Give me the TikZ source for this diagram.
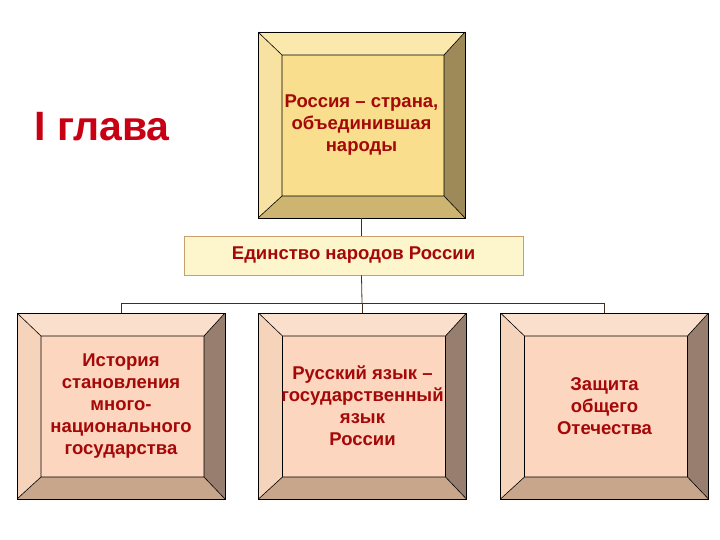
\documentclass[tikz,border=0pt]{standalone}
\usepackage{fontspec}
\setmainfont{Liberation Sans}
\usepackage{tikz}
\usetikzlibrary{calc}
\usetikzlibrary{positioning}

\definecolor{boxtext}{RGB}{165,8,8}
\definecolor{titlered}{RGB}{200,0,20}
\definecolor{linkcol}{RGB}{70,45,25}
% gold frame
\definecolor{gtop}{RGB}{250,232,172}
\definecolor{gleft}{RGB}{247,226,162}
\definecolor{gright}{RGB}{158,138,88}
\definecolor{gbottom}{RGB}{205,180,112}
\definecolor{gface}{RGB}{249,222,142}
% peach frames
\definecolor{ptop}{RGB}{250,224,204}
\definecolor{pleft}{RGB}{246,212,188}
\definecolor{pright}{RGB}{152,126,110}
\definecolor{pbottom}{RGB}{200,166,140}
\definecolor{pface}{RGB}{252,214,190}

% bevelled frame drawn inside a node
\newcommand{\bevelfaces}[5]{%
	\path (path picture bounding box.north west) coordinate (bnw)
	(path picture bounding box.north east) coordinate (bne)
	(path picture bounding box.south east) coordinate (bse)
	(path picture bounding box.south west) coordinate (bsw);
	\path ($(bnw)+(24pt,-23pt)$) coordinate (inw)
	($(bne)+(-21pt,-23pt)$) coordinate (ine)
	($(bse)+(-21pt,22pt)$) coordinate (ise)
	($(bsw)+(24pt,22pt)$) coordinate (isw);
	\fill[#1] (bnw)--(bne)--(ine)--(inw)--cycle;
	\fill[#2] (bnw)--(inw)--(isw)--(bsw)--cycle;
	\fill[#3] (bne)--(bse)--(ise)--(ine)--cycle;
	\fill[#4] (bsw)--(isw)--(ise)--(bse)--cycle;
	\fill[#5] (inw) rectangle (ise);
	\draw[line width=0.6pt] (inw) rectangle (ise) (bnw)--(inw) (bne)--(ine) (bse)--(ise) (bsw)--(isw);
}

\begin{document}
\begin{tikzpicture}
		[
		x=1pt, y=-1pt,
		font=\fontsize{18.5}{22}\selectfont\bfseries,
		link/.style={draw=linkcol,line width=0.8pt}
		]
		
		% Node styles: gold frame, peach frames, the band
		\tikzstyle{gold box}=[draw,line width=0.6pt,minimum width=207pt,minimum height=186pt,align=center,text=boxtext,
			path picture={\bevelfaces{gtop}{gleft}{gright}{gbottom}{gface}}];
		\tikzstyle{peach box}=[draw,line width=0.6pt,minimum width=208pt,minimum height=186pt,align=center,text=boxtext,
			path picture={\bevelfaces{ptop}{pleft}{pright}{pbottom}{pface}}];
		\tikzstyle{band}=[draw={rgb,255:red,200;green,160;blue,110},line width=0.6pt,fill={rgb,255:red,253;green,246;blue,204},
			minimum width=339pt,minimum height=39pt,text=boxtext];
		
		\useasboundingbox (0,0) rectangle (720,540);
		
		% Title
		\node[text=titlered,font=\fontsize{41}{45}\selectfont\bfseries] (chapter) at (102,127) {I глава};
		
		% Top and the band
		\node[gold box] (russia) at (361.5,125) {Россия -- страна,\\объединившая\\народы};
		\node[band] (unity) at (353.5,255.5) {Единство народов России};
		
		% Three frames
		\node[peach box] (history) at (121,406) {\fontsize{18.5}{20}\selectfont История\\становления\\много-\\национального\\государства};
		\node[peach box] (language) at (362.5,406) {Русский язык --\\государственный\\язык\\России};
		\node[peach box] (defence) at (604.5,406) {Защита\\общего\\Отечества};
		
		% Connectors
		\coordinate (split) at (362,303);
		\draw[link] (russia.south) -- (russia.south |- unity.north);
		\draw[link] (russia.south |- unity.south) -- (split);
		\draw[link] (history.north |- split) -- (defence.north |- split);
		\foreach \b in {history,language,defence}
			\draw[link] (\b.north |- split) -- (\b.north);
		\end{tikzpicture}
\end{document}
